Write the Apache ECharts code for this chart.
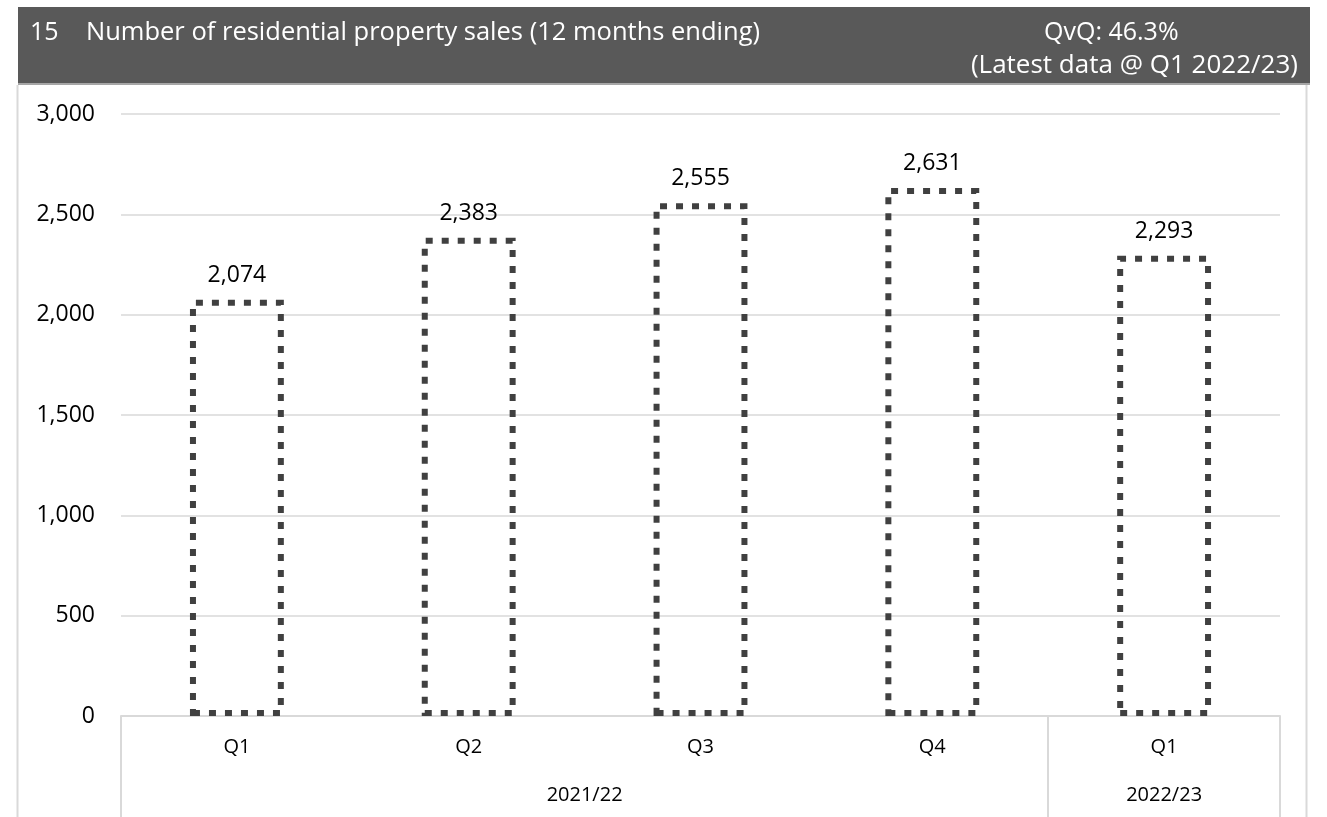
<!DOCTYPE html>
<html>
<head>
<meta charset="utf-8">
<script src="https://cdn.jsdelivr.net/npm/echarts@6/dist/echarts.min.js"></script>
<style>
html,body{margin:0;padding:0;background:#fff;}
#chart{width:1327px;height:817px;}
</style>
</head>
<body>
<div id="chart"></div>
<script>
const quarters = ['Q1', 'Q2', 'Q3', 'Q4', 'Q1'];
const sales = [2074, 2383, 2555, 2631, 2293];
const yearLabels = ['2021/22', '2022/23'];
const yearLabelPos = [2, 4.5];
const yearBounds = [0, 4, 5];
const chartNumber = '15';
const chartTitle = 'Number of residential property sales (12 months ending)';
const changeText = 'QvQ: 46.3%';
const latestText = '(Latest data @ Q1 2022/23)';

const FONT = '"Open Sans", "Noto Sans", sans-serif';
const chart = echarts.init(document.getElementById('chart'), null, {renderer: 'canvas'});
chart.setOption({
  backgroundColor: '#ffffff',
  animation: false,
  graphic: [
    {type: 'rect', shape: {x: 18, y: 7, width: 1292, height: 76}, style: {fill: '#595959'}, z: 0},
    {type: 'rect', shape: {x: 18, y: 83, width: 1292, height: 2}, style: {fill: '#a6a6a6'}, z: 0},
    {type: 'line', shape: {x1: 17.5, y1: 85, x2: 17.5, y2: 817}, style: {stroke: '#d9d9d9', lineWidth: 2}},
    {type: 'line', shape: {x1: 1306.5, y1: 85, x2: 1306.5, y2: 817}, style: {stroke: '#d9d9d9', lineWidth: 2}}
  ],
  title: [
    {text: chartNumber, left: 25, top: 15, textStyle: {color: '#fff', fontSize: 25, fontWeight: 'normal', fontFamily: FONT}},
    {text: chartTitle, left: 81, top: 15, textStyle: {color: '#fff', fontSize: 25.5, fontWeight: 'normal', fontFamily: FONT}},
    {text: changeText, left: 1039, top: 15, textStyle: {color: '#fff', fontSize: 25, fontWeight: 'normal', fontFamily: FONT}},
    {text: latestText, right: 24, top: 48, textStyle: {color: '#fff', fontSize: 26, fontWeight: 'normal', fontFamily: FONT}}
  ],
  grid: {left: 121, right: 47, top: 114, bottom: 101, containLabel: false},
  xAxis: [
    {
      type: 'category',
      data: quarters,
      position: 'bottom',
      axisLine: {show: true, lineStyle: {color: '#d9d9d9', width: 2}},
      axisTick: {show: false},
      axisLabel: {color: '#000', fontSize: 20, fontFamily: FONT, margin: 21},
      splitLine: {show: false},
      z: 1
    },
    {
      type: 'value',
      min: 0,
      max: 5,
      position: 'bottom',
      axisLine: {show: false},
      splitLine: {show: false},
      axisTick: {show: true, customValues: yearBounds, length: 102, lineStyle: {color: '#d9d9d9', width: 2}},
      axisLabel: {
        show: true,
        customValues: yearLabelPos,
        margin: 69,
        color: '#000', fontSize: 20, fontFamily: FONT,
        formatter: function (v) {
          const i = yearLabelPos.indexOf(v);
          return i >= 0 ? yearLabels[i] : '';
        }
      }
    }
  ],
  yAxis: {
    type: 'value',
    min: 0,
    max: 3000,
    interval: 500,
    axisLine: {show: false},
    axisTick: {show: false},
    axisLabel: {
      color: '#000', fontSize: 23, fontFamily: FONT, margin: 26,
      formatter: function (v) { return v.toLocaleString('en-US'); }
    },
    splitLine: {lineStyle: {color: '#d9d9d9', width: 1.5}}
  },
  series: [{
    type: 'bar',
    xAxisIndex: 0,
    data: sales,
    barWidth: '40.5%',
    itemStyle: {
      color: 'rgba(0,0,0,0)',
      borderColor: '#404040',
      borderWidth: 6,
      borderType: [7, 9]
    },
    label: {
      show: true,
      position: 'top',
      distance: 13,
      color: '#000',
      fontSize: 23,
      fontFamily: FONT,
      formatter: function (p) { return p.value.toLocaleString('en-US'); }
    },
    z: 3
  }]
});
</script>
</body>
</html>
